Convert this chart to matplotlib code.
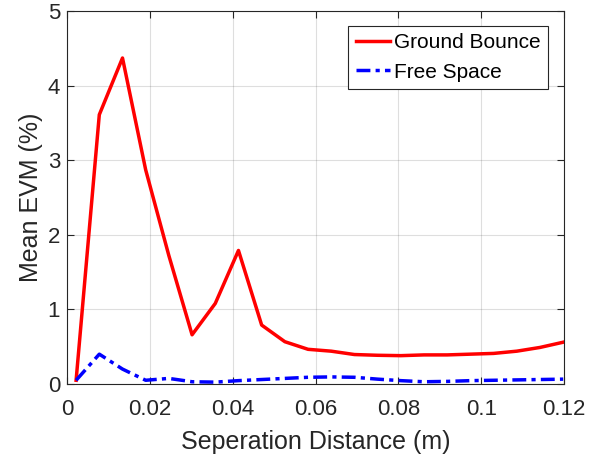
import matplotlib
matplotlib.use("Agg")
import matplotlib.pyplot as plt

# separation distance (m)
sep_dist = [0.0022, 0.0078, 0.0134, 0.0190, 0.0246, 0.0302, 0.0358, 0.0414,
            0.0470, 0.0526, 0.0582, 0.0638, 0.0694, 0.0750, 0.0806, 0.0862,
            0.0918, 0.0974, 0.1030, 0.1086, 0.1142, 0.1198]
# mean EVM (%)
ground_bounce = [0.05, 3.61, 4.37, 2.87, 1.72, 0.66, 1.08, 1.79, 0.79, 0.567,
                 0.465, 0.44, 0.395, 0.385, 0.38, 0.39, 0.39, 0.40, 0.41,
                 0.44, 0.49, 0.56]
free_space = [0.05, 0.40, 0.20, 0.05, 0.075, 0.03, 0.025, 0.045, 0.06, 0.075,
              0.09, 0.095, 0.09, 0.065, 0.045, 0.03, 0.035, 0.045, 0.05,
              0.055, 0.06, 0.065]

plt.rcParams["font.family"] = ["Liberation Sans", "DejaVu Sans"]
dark = "#262626"

fig = plt.figure(figsize=(5.98, 4.57), dpi=100)
ax = fig.add_axes([67 / 598, 1 - 384 / 457, 497 / 598, 373 / 457])

ax.plot(sep_dist, ground_bounce, color="red", lw=2.5, label="Ground Bounce")
ax.plot(sep_dist, free_space, color="blue", lw=2.5, ls="-.",
        dashes=(4, 1.5, 1.2, 1.5), label="Free Space")

ax.set_xlim(0, 0.12)
ax.set_ylim(0, 5)
ax.set_xticks([0, 0.02, 0.04, 0.06, 0.08, 0.1, 0.12])
ax.set_xticklabels(["0", "0.02", "0.04", "0.06", "0.08", "0.1", "0.12"])
ax.set_yticks([0, 1, 2, 3, 4, 5])
ax.grid(True, color=dark, alpha=0.15, lw=0.8)
ax.tick_params(direction="in", top=True, right=True, labelsize=16,
               colors=dark, length=5, width=0.8)
ax.tick_params(axis="x", pad=11)
ax.tick_params(axis="y", pad=5)
for s in ax.spines.values():
    s.set_color(dark)
    s.set_linewidth(0.8)

ax.set_xlabel("Seperation Distance (m)", fontsize=18, color=dark, labelpad=7)
ax.set_ylabel("Mean EVM (%)", fontsize=18, color=dark, labelpad=3)

leg = ax.legend(loc="upper right", fontsize=15, fancybox=False,
                edgecolor=dark, framealpha=1, handlelength=1.65,
                handletextpad=0.2, borderpad=0.35, labelspacing=0.5,
                borderaxespad=0, bbox_to_anchor=(0.968, 0.960))
leg.get_frame().set_linewidth(0.8)

fig.savefig("out.png", dpi=100)
